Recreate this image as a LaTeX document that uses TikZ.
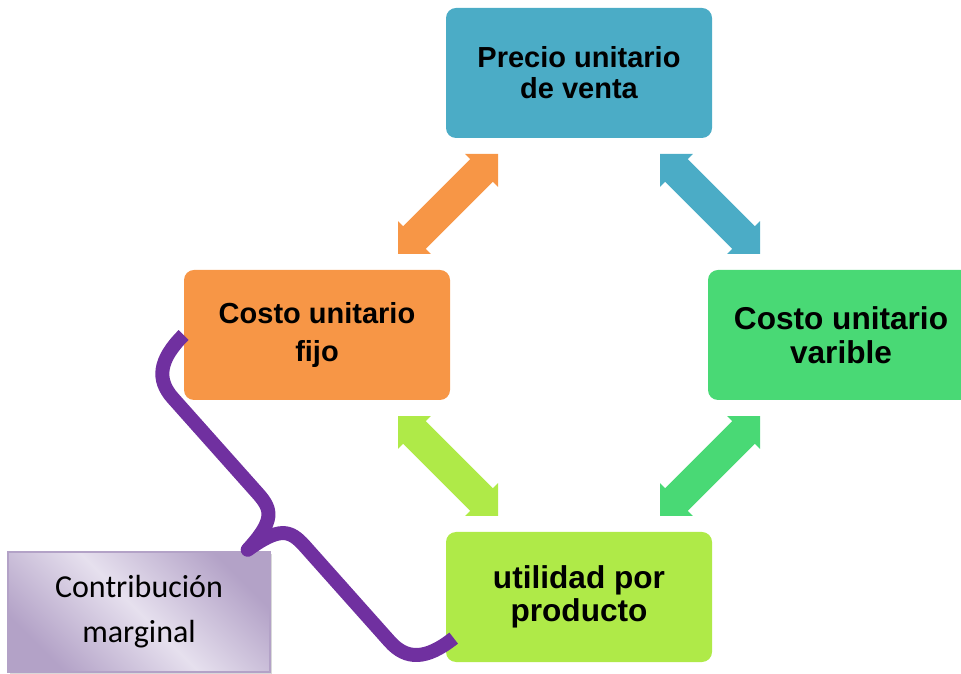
\documentclass[tikz,border=0pt]{standalone}
\usepackage{fontspec}
\setmainfont{Liberation Sans}
\newfontfamily\calibri{Carlito}
\usetikzlibrary{calc, shadows}
\definecolor{precio}{HTML}{4BACC6}
\definecolor{fijo}{HTML}{F79646}
\definecolor{varible}{HTML}{49D975}
\definecolor{utilidad}{HTML}{AFEA48}
\definecolor{llave}{HTML}{7030A0}
\definecolor{lavanda}{HTML}{B3A2C7}
\definecolor{lavclaro}{HTML}{E6E0EE}

\begin{document}
\begin{tikzpicture}[x=0.5pt, y=0.5pt,
  box/.style={rounded corners=5pt, minimum width=133pt, minimum height=65pt, align=center},
  small/.style={font=\bfseries\fontsize{14.5}{15.5}\selectfont},
  big/.style={font=\bfseries\fontsize{15.8}{16.8}\selectfont},
  pics/dblarrow/.style={code={
    \fill[#1] (-70.7,0) -- (-47.4,23.3) -- (-47.4,16) -- (47.4,16) -- (47.4,23.3) -- (70.7,0)
      -- (47.4,-23.3) -- (47.4,-16) -- (-47.4,-16) -- (-47.4,-23.3) -- cycle;}}]
\useasboundingbox (0,0) rectangle (961,673);
\clip (0,0) rectangle (961,673);
\node[box, small, fill=precio] (precio) at (579,600) {Precio unitario\\de venta};
\node[box, font=\bfseries\fontsize{14.5}{19}\selectfont, fill=fijo] (fijo) at (317,338) {Costo unitario\\fijo};
\node[box, big, fill=varible] (varible) at (841,338) {Costo unitario\\varible};
\node[box, big, fill=utilidad] (utilidad) at (579,76) {utilidad por\\producto};
\pic[rotate=45] at ($(precio.south west)!.5!(fijo.north east)$) {dblarrow=fijo};
\pic[rotate=-45] at ($(precio.south east)!.5!(varible.north west)$) {dblarrow=precio};
\pic[rotate=-45] at ($(fijo.south east)!.5!(utilidad.north west)$) {dblarrow=utilidad};
\pic[rotate=45] at ($(varible.south west)!.5!(utilidad.north east)$) {dblarrow=varible};
\node[draw=lavanda, line width=1pt, top color=lavanda, bottom color=lavanda, middle color=lavclaro,
  shading angle=-45, minimum width=131pt, minimum height=60pt, align=center,
  drop shadow={shadow xshift=1.2pt, shadow yshift=-1.2pt, opacity=.3},
  font=\calibri\fontsize{16}{22.5}\selectfont] (contrib) at (139,61) {Contribución\\marginal};
\begin{scope}[shift={(fijo.west)}, rotate=-48.3]
\draw[llave, line width=7pt, line join=round]
  (0,0) .. controls (2,-35) and (15,-50) .. (40,-50) -- (168,-50)
  .. controls (190,-50) and (199,-56) .. (203,-95)
  .. controls (207,-56) and (216,-50) .. (238,-50) -- (366,-50)
  .. controls (391,-50) and (404,-35) .. (406,0);
\end{scope}
\end{tikzpicture}
\end{document}
